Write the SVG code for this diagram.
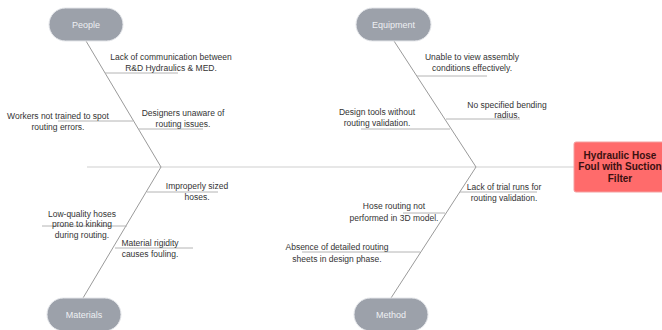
<svg xmlns="http://www.w3.org/2000/svg" width="662" height="330" viewBox="0 0 662 330">
<style>
.bg{fill:#ffffff}
.spine{stroke:#cfcfcf;stroke-width:1.2;fill:none}
.bone{stroke:#9a9a9a;stroke-width:1;fill:none}
.sub{stroke:#b4b4b4;stroke-width:1;fill:none}
.pill{fill:#9ca1aa;stroke:#e4e6ea;stroke-width:1}
.pt{font-family:"Liberation Sans",Arial,sans-serif;font-size:9px;fill:#eef0f3;text-anchor:middle}
.t{font-family:"Liberation Sans",Arial,sans-serif;font-size:8.5px;fill:#333333;text-anchor:middle}
.eff{fill:#ff6b6b;stroke:#f4a0a0;stroke-width:1}
.et{font-family:"Liberation Sans",Arial,sans-serif;font-size:10px;font-weight:bold;fill:#3a1010;text-anchor:middle}
</style>
<rect class="bg" x="0" y="0" width="662" height="330"/>
<g id="connectors">
<line class="spine" x1="87" y1="167" x2="574" y2="167"/>
<line class="bone" x1="86" y1="41" x2="161" y2="167"/>
<line class="bone" x1="394" y1="41" x2="476" y2="167"/>
<line class="bone" x1="161" y1="167" x2="83" y2="298"/>
<line class="bone" x1="476" y1="167" x2="391" y2="298"/>
<line class="sub" x1="105" y1="73" x2="178" y2="73"/>
<line class="sub" x1="58" y1="121" x2="133" y2="121"/>
<line class="sub" x1="138" y1="129" x2="203" y2="129"/>
<line class="sub" x1="417" y1="76" x2="487" y2="76"/>
<line class="sub" x1="446" y1="119" x2="520" y2="119"/>
<line class="sub" x1="361" y1="129" x2="450" y2="129"/>
<line class="sub" x1="147" y1="192" x2="218" y2="192"/>
<line class="sub" x1="42" y1="226" x2="127" y2="226"/>
<line class="sub" x1="115" y1="248" x2="193" y2="248"/>
<line class="sub" x1="460" y1="192" x2="537" y2="192"/>
<line class="sub" x1="403" y1="213" x2="445" y2="213"/>
<line class="sub" x1="302" y1="252" x2="420" y2="252"/>
</g>
<g id="people">
<rect class="pill" x="49" y="8" width="74" height="33" rx="16.5"/>
<text class="pt" x="86" y="27.5">People</text>
</g>
<g id="equipment">
<rect class="pill" x="356" y="8" width="75" height="33" rx="16.5"/>
<text class="pt" x="393.5" y="27.5">Equipment</text>
</g>
<g id="materials">
<rect class="pill" x="47" y="298" width="74" height="33" rx="16.5"/>
<text class="pt" x="84" y="317.5">Materials</text>
</g>
<g id="method">
<rect class="pill" x="354" y="298" width="74" height="33" rx="16.5"/>
<text class="pt" x="391" y="317.5">Method</text>
</g>
<g id="effect">
<rect class="eff" x="574" y="142" width="94" height="50" rx="2"/>
<text class="et" x="620" y="158.5">Hydraulic Hose</text>
<text class="et" x="620" y="170">Foul with Suction</text>
<text class="et" x="620" y="181.5">Filter</text>
</g>
<g id="cause-people-1"><text class="t" x="171" y="60">Lack of communication between</text><text class="t" x="171" y="71">R&amp;D Hydraulics &amp; MED.</text></g>
<g id="cause-people-2"><text class="t" x="58" y="119">Workers not trained to spot</text><text class="t" x="58" y="129.5">routing errors.</text></g>
<g id="cause-people-3"><text class="t" x="183" y="116">Designers unaware of</text><text class="t" x="183" y="127">routing issues.</text></g>
<g id="cause-equipment-1"><text class="t" x="472" y="60">Unable to view assembly</text><text class="t" x="472" y="71">conditions effectively.</text></g>
<g id="cause-equipment-2"><text class="t" x="507" y="108">No specified bending</text><text class="t" x="507" y="118">radius.</text></g>
<g id="cause-equipment-3"><text class="t" x="377" y="115">Design tools without</text><text class="t" x="377" y="125.5">routing validation.</text></g>
<g id="cause-materials-1"><text class="t" x="197" y="189">Improperly sized</text><text class="t" x="197" y="199.5">hoses.</text></g>
<g id="cause-materials-2"><text class="t" x="82" y="216.5">Low-quality hoses</text><text class="t" x="82" y="227">prone to kinking</text><text class="t" x="82" y="237.5">during routing.</text></g>
<g id="cause-materials-3"><text class="t" x="150" y="245.5">Material rigidity</text><text class="t" x="150" y="256.5">causes fouling.</text></g>
<g id="cause-method-1"><text class="t" x="504" y="190">Lack of trial runs for</text><text class="t" x="504" y="201">routing validation.</text></g>
<g id="cause-method-2"><text class="t" x="394" y="209">Hose routing not</text><text class="t" x="394" y="220.5">performed in 3D model.</text></g>
<g id="cause-method-3"><text class="t" x="337" y="250">Absence of detailed routing</text><text class="t" x="337" y="261.5">sheets in design phase.</text></g>
</svg>
